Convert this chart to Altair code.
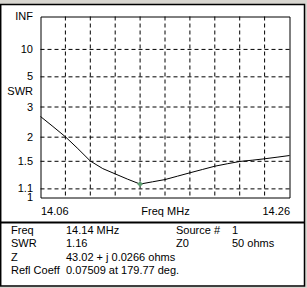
import altair as alt
import pandas as pd

# ---- data ----
freq = [14.06, 14.07, 14.08, 14.09, 14.10, 14.11, 14.12, 14.13, 14.14, 14.15, 14.16,
        14.17, 14.18, 14.19, 14.20, 14.21, 14.22, 14.23, 14.24, 14.25, 14.26]
swr = [2.62, 2.29, 2.01, 1.74, 1.505, 1.38, 1.30, 1.225, 1.16, 1.19, 1.22,
       1.267, 1.316, 1.366, 1.418, 1.458, 1.497, 1.519, 1.544, 1.573, 1.604]

marker_freq = [14.14]
marker_swr = [1.16]

x_ticks = [14.06, 14.08, 14.10, 14.12, 14.14, 14.16, 14.18, 14.20, 14.22, 14.24, 14.26]
swr_tick_values = [1, 1.1, 1.5, 2, 3, 5, 10, None]   # None = INF
swr_tick_labels = ["1", "1.1", "1.5", "2", "3", "5", "10", "INF"]

info_labels = ["Freq", "SWR", "Z", "Refl Coeff"]
info_values = ["14.14 MHz", "1.16", "43.02 + j 0.0266 ohms", "0.07509 at 179.77 deg."]
info_labels2 = ["Source #", "Z0", "", ""]
info_values2 = ["1", "50 ohms", "", ""]

# ---- helpers ----
FONT = "Liberation Sans"
FS = 11
GRAY = "#D8D6D0"

rho_ticks = [1.0 if s is None else (s - 1) / (s + 1) for s in swr_tick_values]
expr = "''"
for i in reversed(range(len(rho_ticks))):
    if i == len(rho_ticks) - 1:
        expr = f"'{swr_tick_labels[i]}'"
    else:
        mid = (rho_ticks[i] + rho_ticks[i + 1]) / 2
        expr = f"datum.value < {mid:.5f} ? '{swr_tick_labels[i]}' : ({expr})"

x_scale = alt.Scale(domain=[14.06, 14.26], nice=False, zero=False)
y_scale = alt.Scale(domain=[0, 1], nice=False, zero=False)

curve_df = pd.DataFrame({"freq": freq, "swr": swr})
marker_df = pd.DataFrame({"freq": marker_freq, "swr": marker_swr})

x_axis = alt.Axis(
    values=x_ticks, format=".2f",
    labelExpr="datum.index == 0 || datum.index == 1 ? datum.label : ''",
    labelFlush=True, labelPadding=8, labelFont=FONT, labelFontSize=FS, labelColor="black",
    ticks=False, domain=False, grid=False,
    title="Freq MHz", titleFont=FONT, titleFontSize=FS, titleFontWeight="normal",
    titleColor="black", titleY=8, titleBaseline="top",
)
y_axis = alt.Axis(
    values=rho_ticks, labelExpr=expr, labelFlush=False, labelOverlap=False,
    labelPadding=8, labelFont=FONT, labelFontSize=FS, labelColor="black",
    ticks=False, domain=False, grid=False,
    title="SWR", titleAngle=0, titleX=-8, titleY=74.5, titleAlign="right",
    titleBaseline="middle", titleFont=FONT, titleFontSize=FS,
    titleFontWeight="normal", titleColor="black",
)

# dashed grid as rule marks at the tick positions
vgrid = alt.Chart(pd.DataFrame({"f": x_ticks[1:-1]})).mark_rule(
    color="black", strokeWidth=1, strokeDash=[4, 3]
).encode(x=alt.X("f:Q", scale=x_scale, axis=x_axis))

hgrid = alt.Chart(pd.DataFrame({"r": rho_ticks[1:-1]})).mark_rule(
    color="black", strokeWidth=1, strokeDash=[4, 3]
).encode(y=alt.Y("r:Q", scale=y_scale, axis=None))

curve = alt.Chart(curve_df).transform_calculate(
    rho="(datum.swr - 1) / (datum.swr + 1)"
).mark_line(color="black", strokeWidth=1).encode(
    x=alt.X("freq:Q", scale=x_scale),
    y=alt.Y("rho:Q", scale=y_scale, axis=y_axis),
)

marker = alt.Chart(marker_df).transform_calculate(
    rho="(datum.swr - 1) / (datum.swr + 1)"
).mark_point(filled=True, shape="diamond", size=35, color="#5f9f72", opacity=1).encode(
    x=alt.X("freq:Q", scale=x_scale),
    y=alt.Y("rho:Q", scale=y_scale, axis=None),
)

one = pd.DataFrame({"k": [0]})

def band(x1, x2, y1, y2, color):
    return alt.Chart(one).mark_rect(color=color).encode(
        x=alt.value(x1), x2=alt.value(x2), y=alt.value(y1), y2=alt.value(y2))

# frame pieces (coordinates relative to plot origin at 40.5,16.5)
top_band = band(-41, 268, -17, -12.5, GRAY)
right_band = band(264.5, 268, -17, 273, GRAY)
bottom_band = band(-41, 268, 270.5, 273, GRAY)
panel = alt.Chart(one).mark_rect(fill="transparent", stroke="black", strokeWidth=1.5).encode(
    x=alt.value(-39.8), x2=alt.value(264), y=alt.value(-12), y2=alt.value(269.5))
divider = alt.Chart(one).mark_rule(color="black", strokeWidth=2).encode(
    x=alt.value(-41), x2=alt.value(264.5), y=alt.value(206))

info_df = pd.DataFrame({
    "row": list(range(len(info_labels))),
    "c0": info_labels, "c1": info_values, "c2": info_labels2, "c3": info_values2,
})
row_scale = alt.Scale(domain=[0, 3], range=[214.5, 254.5])

def info_col(col, xpos):
    return alt.Chart(info_df).mark_text(
        align="left", baseline="middle", font=FONT, fontSize=FS, color="black"
    ).encode(
        x=alt.value(xpos),
        y=alt.Y("row:Q", scale=row_scale, axis=None),
        text=alt.Text(f"{col}:N"),
    )

chart = alt.layer(
    top_band, right_band, bottom_band, panel, divider,
    vgrid, hgrid, curve, marker,
    info_col("c0", -29.5), info_col("c1", 25.5), info_col("c2", 135.5), info_col("c3", 191.5),
).resolve_scale(y="independent").properties(
    width=249, height=181,
    padding={"left": 40.5, "top": 16.5, "right": 17.5, "bottom": 90.5},
    autosize=alt.AutoSizeParams(type="none"),
    background="white",
).configure_view(stroke="black", strokeWidth=1)

chart.save("out.html", embed_options={"renderer": "svg", "actions": False})
